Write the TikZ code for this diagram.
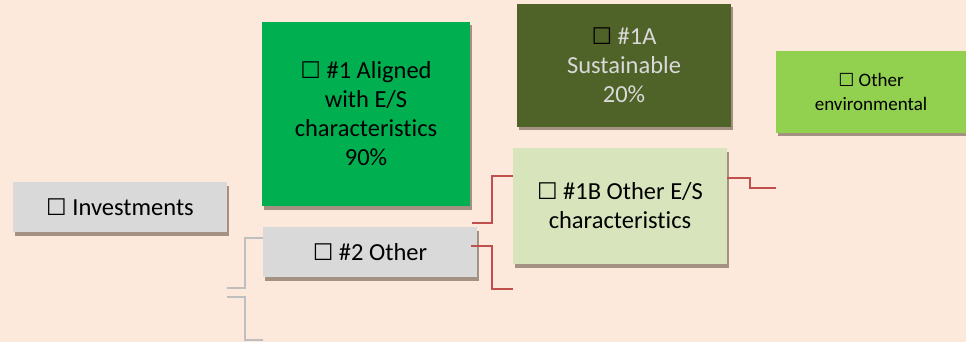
\documentclass[tikz,border=0pt]{standalone}
\usepackage{fontspec}
\setmainfont{Carlito}[Ligatures=NoCommon]
\newfontfamily\symfont{DejaVu Sans}
\usetikzlibrary{shadows}

\definecolor{bgpeach}{HTML}{FCE9DC}
\definecolor{boxgray}{HTML}{D9D9D9}
\definecolor{alignedgreen}{HTML}{00B050}
\definecolor{sustgreen}{HTML}{4F6228}
\definecolor{othergreen}{HTML}{D8E4BC}
\definecolor{envgreen}{HTML}{92D050}
\definecolor{linkred}{HTML}{C0504D}
\definecolor{linkgray}{HTML}{BFBFBF}

\newcommand{\tickbox}{{\symfont\fontsize{23}{23}\selectfont ☐}}

\tikzset{
  boxnode/.style={rectangle, inner sep=0pt, align=center,
    font=\fontsize{24.5}{29}\selectfont,
    drop shadow={shadow xshift=2pt, shadow yshift=-3.5pt, opacity=0.45, fill=black!70!brown}},
  redlink/.style={linkred, line width=1.3pt},
  graylink/.style={linkgray, line width=1.6pt}
}

\begin{document}
\begin{tikzpicture}[x=1pt, y=-1pt]
            % page and background
            \useasboundingbox (0,0) rectangle (966,342);
            \fill[bgpeach] (0,0) rectangle (966,342);

            % boxes
            \node[boxnode, fill=boxgray, minimum width=214pt, minimum height=50pt] (invest) at (120,207) {\tickbox{} Investments};
            \node[boxnode, fill=alignedgreen, minimum width=208pt, minimum height=184pt] (aligned) at (366,114) {\tickbox{} \#1 Aligned\\with E/S\\characteristics\\90\%};
            \node[boxnode, fill=boxgray, minimum width=214pt, minimum height=50pt] (other2) at (370,252) {\tickbox{} \#2 Other};
            \node[boxnode, fill=sustgreen, text=boxgray, minimum width=214pt, minimum height=123pt] (sust1a) at (624,65.5) {{\color{black}\tickbox}{} \#1A\\Sustainable\\20\%};
            \node[boxnode, fill=othergreen, minimum width=214pt, minimum height=116pt] (es1b) at (620,206) {\tickbox{} \#1B Other E/S\\characteristics};
            \node[boxnode, fill=envgreen, minimum width=190pt, minimum height=82pt, font=\fontsize{19}{24}\selectfont] (otherenv) at (871,92) {{\symfont\fontsize{18}{18}\selectfont ☐} Other\\environmental};

            % gray links
            \draw[graylink] (other2.west |- 0,238) -| (245,288) -- (invest.east |- 0,288);
            \draw[graylink] (invest.east |- 0,297) -| (245,340) -- (other2.west |- 0,340);

            % red links
            \draw[redlink] ([xshift=2pt]aligned.east |- 0,223) -| (492,176) -- (es1b.west |- 0,176);
            \draw[redlink] ([xshift=-6pt]other2.east |- 0,246) -| (492,289) -- (es1b.west |- 0,289);
            \draw[redlink] (es1b.east |- 0,178) -| (750,188) -- (otherenv.west |- 0,188);
        \end{tikzpicture}
\end{document}
